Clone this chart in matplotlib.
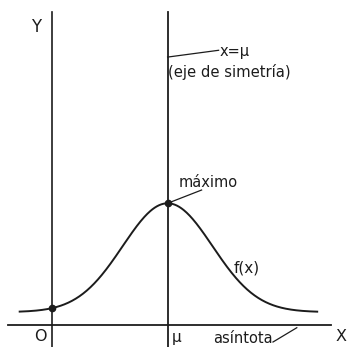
import numpy as np
import matplotlib
matplotlib.use("Agg")
import matplotlib.pyplot as plt

# Normal curve parameters (axis units: O at 0)
mu = 3.4
sigma = 1.32
peak_height = 3.2
asymptote_offset = 0.38
curve_range = [-0.95, 7.8]

# Axis extents
x_axis_range = [-1.3, 8.2]
y_axis_range = [-0.7, 9.2]

INK = "#1c1c1c"
plt.rcParams["font.family"] = ["DejaVu Sans"]

fig = plt.figure(figsize=(3.48, 3.47), dpi=100)
ax = fig.add_axes([0, 0, 1, 1])
ax.set_xlim(-1.529, 8.706)
ax.set_ylim(-0.647, 9.559)
ax.axis("off")

# Axes and symmetry line
ax.plot(x_axis_range, [0, 0], color=INK, lw=1.3)
ax.plot([0, 0], y_axis_range, color=INK, lw=1.2)
ax.plot([mu, mu], y_axis_range, color=INK, lw=1.3)

# f(x)
def f(x):
    return asymptote_offset + peak_height * np.exp(-0.5 * ((x - mu) / sigma) ** 2)

xs = np.linspace(curve_range[0], curve_range[1], 400)
ax.plot(xs, f(xs), color=INK, lw=1.4)
ax.plot([0, mu], [f(0), f(mu)], "o", color=INK, ms=4.5)

# Labels
ax.text(-0.47, 8.76, "Y", fontsize=12, color=INK, ha="center", va="center")
ax.text(8.5, -0.34, "X", fontsize=11.5, color=INK, ha="center", va="center")
ax.text(-0.35, -0.34, "O", fontsize=11.5, color=INK, ha="center", va="center")
ax.text(mu + 0.12, -0.36, "μ", fontsize=11, color=INK, ha="left", va="center")

ax.plot([mu, mu + 1.5], [7.88, 8.08], color=INK, lw=0.9)
ax.text(mu + 1.52, 8.03, "x=μ", fontsize=10.5, color=INK, ha="left", va="center")
ax.text(mu + 0.02, 7.44, "(eje de simetría)", fontsize=10.6, color=INK,
        ha="left", va="center")

ax.text(mu + 0.32, 4.2, "máximo", fontsize=10.5, color=INK, ha="left", va="center")
ax.plot([mu, mu + 1.0], [f(mu), 3.97], color=INK, lw=0.9)

ax.text(5.35, 1.68, "f(x)", fontsize=11, color=INK, ha="left", va="center")

ax.text(4.74, -0.4, "asíntota", fontsize=10.5, color=INK, ha="left", va="center")
ax.plot([6.5, 7.2], [-0.5, -0.08], color=INK, lw=0.9)

fig.savefig("out.png", dpi=100)
